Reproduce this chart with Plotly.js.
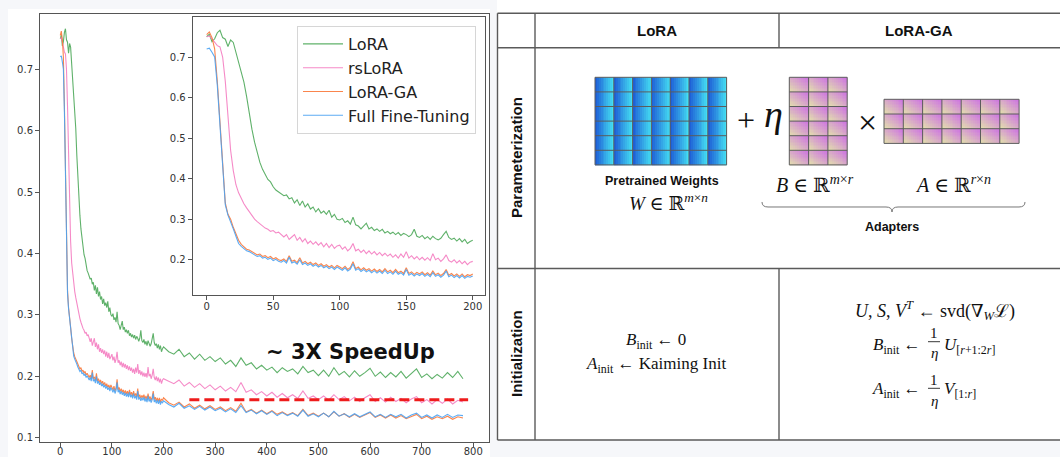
<!DOCTYPE html>
<html><head><meta charset="utf-8">
<script src="https://cdn.plot.ly/plotly-3.0.1.min.js"></script>
<style>html,body{margin:0;padding:0;background:#f6f7fa;}#chart{width:1060px;height:457px;}</style>
</head><body><div id="chart"></div>
<script>
// ---------------- DATA ----------------
const stepsEarly = [0,2,4,6,8,10,12,14,16,18,20,22,24,26,28,30,32,34,36,38,40,42,44,46,48,50,52,54,56,58,60,62,64,66,68,70,72,74,76,78,80,82,84,86,88,90,92,94,96,98,100,102,104,106,108,110,112,114,116,118,120,122,124,126,128,130,132,134,136,138,140,142,144,146,148,150,152,154,156,158,160,162,164,166,168,170,172,174,176,178,180,182,184,186,188,190,192,194,196,198,200];
const stepsLate = [210,220,230,240,250,260,270,280,290,300,310,320,330,340,350,360,370,380,390,400,410,420,430,440,450,460,470,480,490,500,510,520,530,540,550,560,570,580,590,600,610,620,630,640,650,660,670,680,690,700,710,720,730,740,750,760,770,780];

const loraEarly = [0.750,0.756,0.738,0.745,0.760,0.766,0.748,0.744,0.726,0.742,0.736,0.712,0.683,0.660,0.638,0.603,0.560,0.522,0.490,0.462,0.440,0.423,0.410,0.398,0.392,0.380,0.372,0.368,0.362,0.358,0.360,0.350,0.353,0.340,0.348,0.334,0.345,0.330,0.338,0.325,0.330,0.318,0.326,0.315,0.320,0.312,0.322,0.305,0.312,0.300,0.298,0.302,0.292,0.296,0.288,0.305,0.286,0.283,0.276,0.282,0.290,0.276,0.280,0.272,0.276,0.270,0.275,0.266,0.270,0.264,0.268,0.262,0.267,0.260,0.265,0.262,0.257,0.262,0.275,0.258,0.255,0.260,0.252,0.257,0.250,0.258,0.252,0.249,0.253,0.262,0.270,0.255,0.250,0.253,0.246,0.252,0.244,0.250,0.240,0.245,0.248];
const rsloraEarly = [0.750,0.752,0.745,0.735,0.728,0.725,0.700,0.640,0.560,0.470,0.420,0.385,0.365,0.350,0.338,0.328,0.318,0.308,0.300,0.294,0.288,0.282,0.278,0.275,0.270,0.272,0.266,0.268,0.262,0.256,0.262,0.250,0.256,0.262,0.248,0.255,0.244,0.252,0.240,0.246,0.238,0.244,0.236,0.242,0.232,0.240,0.230,0.238,0.228,0.234,0.236,0.226,0.232,0.222,0.228,0.240,0.222,0.226,0.218,0.224,0.215,0.222,0.214,0.220,0.212,0.218,0.210,0.216,0.209,0.214,0.206,0.212,0.204,0.214,0.206,0.220,0.204,0.210,0.202,0.208,0.200,0.206,0.199,0.205,0.198,0.215,0.200,0.204,0.196,0.202,0.212,0.198,0.194,0.200,0.192,0.198,0.190,0.196,0.188,0.194,0.196];
const loragaEarly = [0.755,0.762,0.748,0.720,0.640,0.540,0.430,0.340,0.312,0.300,0.280,0.262,0.248,0.238,0.232,0.226,0.224,0.220,0.215,0.212,0.214,0.208,0.210,0.205,0.208,0.202,0.205,0.200,0.198,0.202,0.196,0.210,0.196,0.199,0.193,0.205,0.192,0.196,0.190,0.194,0.188,0.192,0.186,0.190,0.184,0.188,0.182,0.186,0.180,0.186,0.182,0.178,0.184,0.176,0.181,0.195,0.178,0.182,0.175,0.180,0.174,0.178,0.172,0.177,0.171,0.176,0.170,0.178,0.170,0.174,0.168,0.176,0.168,0.172,0.166,0.180,0.166,0.170,0.164,0.169,0.165,0.170,0.163,0.168,0.162,0.172,0.163,0.167,0.161,0.166,0.176,0.162,0.166,0.160,0.165,0.159,0.165,0.158,0.163,0.161,0.165];
const fullftEarly = [0.720,0.722,0.712,0.700,0.630,0.535,0.425,0.335,0.310,0.295,0.276,0.258,0.240,0.233,0.228,0.222,0.220,0.215,0.212,0.208,0.210,0.204,0.206,0.201,0.204,0.198,0.201,0.196,0.194,0.198,0.192,0.206,0.192,0.195,0.189,0.200,0.188,0.192,0.186,0.190,0.184,0.188,0.182,0.186,0.180,0.184,0.178,0.182,0.176,0.182,0.178,0.174,0.180,0.172,0.177,0.190,0.174,0.178,0.171,0.176,0.170,0.174,0.168,0.173,0.167,0.172,0.166,0.174,0.166,0.170,0.164,0.172,0.164,0.168,0.162,0.176,0.162,0.166,0.160,0.165,0.161,0.166,0.159,0.164,0.158,0.168,0.159,0.163,0.157,0.162,0.172,0.158,0.162,0.156,0.161,0.155,0.161,0.154,0.159,0.157,0.160];

const loraLate = [0.240,0.236,0.244,0.232,0.238,0.228,0.236,0.226,0.232,0.224,0.230,0.220,0.226,0.216,0.230,0.218,0.222,0.212,0.218,0.210,0.215,0.206,0.214,0.208,0.212,0.204,0.216,0.206,0.210,0.201,0.210,0.200,0.214,0.202,0.208,0.199,0.209,0.200,0.206,0.213,0.200,0.207,0.198,0.206,0.199,0.208,0.197,0.205,0.212,0.198,0.204,0.196,0.203,0.197,0.206,0.198,0.208,0.196];
const rsloraLate = [0.192,0.188,0.194,0.184,0.190,0.182,0.188,0.180,0.186,0.178,0.184,0.176,0.182,0.175,0.190,0.174,0.178,0.170,0.175,0.168,0.174,0.166,0.172,0.165,0.170,0.164,0.176,0.164,0.168,0.162,0.168,0.161,0.170,0.162,0.167,0.160,0.166,0.159,0.165,0.170,0.159,0.165,0.158,0.166,0.159,0.164,0.157,0.163,0.167,0.157,0.162,0.155,0.162,0.156,0.163,0.155,0.161,0.158];
const loragaLate = [0.157,0.153,0.158,0.150,0.155,0.148,0.153,0.147,0.152,0.146,0.150,0.144,0.149,0.143,0.156,0.142,0.146,0.140,0.145,0.139,0.144,0.138,0.142,0.137,0.141,0.136,0.146,0.136,0.140,0.135,0.140,0.134,0.142,0.135,0.139,0.133,0.138,0.133,0.137,0.141,0.133,0.137,0.132,0.137,0.132,0.136,0.131,0.135,0.138,0.131,0.135,0.130,0.134,0.131,0.135,0.130,0.134,0.132];
const fullftLate = [0.154,0.150,0.156,0.148,0.152,0.146,0.151,0.145,0.150,0.144,0.148,0.142,0.147,0.141,0.152,0.141,0.145,0.139,0.144,0.138,0.143,0.136,0.141,0.136,0.140,0.135,0.145,0.135,0.139,0.134,0.140,0.134,0.143,0.135,0.139,0.134,0.139,0.134,0.138,0.142,0.134,0.138,0.133,0.138,0.134,0.138,0.132,0.137,0.140,0.133,0.137,0.132,0.137,0.133,0.138,0.133,0.137,0.136];

const seriesNames = ['LoRA','rsLoRA','LoRA-GA','Full Fine-Tuning'];
const speedupX = [250, 790];
const speedupY = [0.162, 0.162];
const mainXTicks = [0,100,200,300,400,500,600,700,800];
const mainYTicks = [0.1,0.2,0.3,0.4,0.5,0.6,0.7];
const insetXTicks = [0,50,100,150,200];
const insetYTicks = [0.2,0.3,0.4,0.5,0.6,0.7];
const headerLabels = ['LoRA','LoRA-GA'];
const rowLabels = ['Parameterization','Initialization'];

// ---------------- STYLE / GEOMETRY ----------------
const W = 1060, H = 457;
const PX = p => p / W, PY = p => 1 - p / H;
const colors = ['#4ea85a','#f47dc1','#f9783a','#4aa2f2'];
const early = [loraEarly, rsloraEarly, loragaEarly, fullftEarly];
const late = [loraLate, rsloraLate, loragaLate, fullftLate];
const tickFont = {family:'DejaVu Sans', size:10, color:'#333'};
const mathFont = 'Liberation Serif, DejaVu Serif, serif';
const sansFont = 'Liberation Sans, Arial, sans-serif';

const traces = [];
for (let i = 0; i < 4; i++) {
  traces.push({type:'scatter', mode:'lines', name:seriesNames[i],
    x: stepsEarly.concat(stepsLate), y: early[i].concat(late[i]),
    xaxis:'x', yaxis:'y', line:{color:colors[i], width:1.1}, opacity:0.9, showlegend:false});
}
traces.push({type:'scatter', mode:'lines', x:speedupX, y:speedupY, xaxis:'x', yaxis:'y',
  line:{color:'#ee1c1c', width:3, dash:'10px,5px'}, showlegend:false});
for (let i = 0; i < 4; i++) {
  traces.push({type:'scatter', mode:'lines', name:seriesNames[i],
    x: stepsEarly, y: early[i], xaxis:'x2', yaxis:'y2',
    line:{color:colors[i], width:1.1}, opacity:0.9, showlegend:true});
}

// matrix diagrams (gradient cells) as heatmaps on a pixel-space axis pair
function matrixHeat(x0, y0, cols, rows, cw, ch, sub, fn, cs) {
  const xe = [], ye = [], z = [];
  for (let c = 0; c < cols; c++) for (let s = 0; s < sub; s++) xe.push(x0 + c*cw + s*cw/sub);
  xe.push(x0 + cols*cw);
  for (let r = 0; r < rows; r++) for (let t = 0; t < sub; t++) ye.push(y0 + r*ch + t*ch/sub);
  ye.push(y0 + rows*ch);
  for (let r = 0; r < rows; r++) for (let t = 0; t < sub; t++) {
    const row = [];
    for (let c = 0; c < cols; c++) for (let s = 0; s < sub; s++) row.push(fn((s+0.5)/sub, (t+0.5)/sub));
    z.push(row);
  }
  return {type:'heatmap', x:xe, y:ye, z:z, xaxis:'x3', yaxis:'y3', colorscale:cs,
    zmin:0, zmax:1, showscale:false, hoverinfo:'skip', zsmooth:false};
}
const blueCS = [[0,'#1d5ad6'],[1,'#46e4f3']];
const pinkCS = [[0,'#e3e2ab'],[1,'#cd70e4']];
const mats = [
  {x0:595, y0:77.3, cols:7, rows:6, cw:18.8, ch:14.6, fn:(u,v)=>u, cs:blueCS},
  {x0:789.3, y0:77.3, cols:3, rows:6, cw:19.3, ch:14.6, fn:(u,v)=>(u+1-v)/2, cs:pinkCS},
  {x0:884, y0:99.3, cols:7, rows:3, cw:19.3, ch:14.7, fn:(u,v)=>(u+1-v)/2, cs:pinkCS}
];
const shapes = [];
const line = (x0,y0,x1,y1,color,width) => ({type:'line', xref:'paper', yref:'paper',
  x0:PX(x0), y0:PY(y0), x1:PX(x1), y1:PY(y1), line:{color:color, width:width}, layer:'above'});
mats.forEach(m => {
  traces.push(matrixHeat(m.x0, m.y0, m.cols, m.rows, m.cw, m.ch, 10, m.fn, m.cs));
  for (let c = 0; c <= m.cols; c++) shapes.push(line(m.x0+c*m.cw, m.y0, m.x0+c*m.cw, m.y0+m.rows*m.ch, '#5c5c5c', 1));
  for (let r = 0; r <= m.rows; r++) shapes.push(line(m.x0, m.y0+r*m.ch, m.x0+m.cols*m.cw, m.y0+r*m.ch, '#5c5c5c', 1));
});

// panels
shapes.push({type:'rect', xref:'paper', yref:'paper', x0:PX(8), x1:PX(490), y0:PY(457), y1:PY(9),
  fillcolor:'#ffffff', line:{width:0}, layer:'below'});
// table lines
const tc = '#5a5a5a', tw = 1.4;
shapes.push(line(497.5, 13.3, 1060, 13.3, tc, tw));
shapes.push(line(497.5, 47.7, 1060, 47.7, tc, tw));
shapes.push(line(497.5, 268.5, 1060, 268.5, tc, tw));
shapes.push(line(497.5, 440, 1060, 440, tc, tw));
shapes.push(line(497.5, 13.3, 497.5, 440, tc, tw));
shapes.push(line(535, 13.3, 535, 440, tc, tw));
shapes.push(line(779, 13.3, 779, 47.7, tc, tw));
shapes.push(line(779, 268.5, 779, 440, tc, tw));
// underbrace
const bp = (x,y) => PX(x).toFixed(5) + ',' + PY(y).toFixed(5);
shapes.push({type:'path', xref:'paper', yref:'paper', layer:'above', line:{color:'#777', width:1},
  path:'M' + bp(762,202) + ' Q' + bp(762,207) + ' ' + bp(768,207) + ' L' + bp(886,207) + ' Q' + bp(892,207) + ' ' + bp(892,212) +
       ' Q' + bp(892,207) + ' ' + bp(898,207) + ' L' + bp(1019,207) + ' Q' + bp(1025,207) + ' ' + bp(1025,202)});
// fraction bars
shapes.push(line(928, 341.7, 940, 341.7, '#222', 0.9));
shapes.push(line(928, 388.3, 940, 388.3, '#222', 0.9));

const annotations = [];
function ann(text, x, y, font, opts) {
  annotations.push(Object.assign({text:text, xref:'paper', yref:'paper', x:PX(x), y:PY(y),
    showarrow:false, font:font, xanchor:'center', yanchor:'middle'}, opts || {}));
}
// left chart annotation
annotations.push({text:'<b>~ 3X SpeedUp</b>', xref:'x', yref:'y', x:563, y:0.2396, showarrow:false,
  font:{family:'DejaVu Sans', size:21, color:'#111'}, xanchor:'center', yanchor:'middle'});
// table header / row labels
ann('<b>' + headerLabels[0] + '</b>', 657, 31, {family:sansFont, size:15, color:'#111'});
ann('<b>' + headerLabels[1] + '</b>', 918.5, 31, {family:sansFont, size:15, color:'#111'});
ann('<b>' + rowLabels[0] + '</b>', 516, 158, {family:sansFont, size:15, color:'#111'}, {textangle:-90});
ann('<b>' + rowLabels[1] + '</b>', 516, 354, {family:sansFont, size:15, color:'#111'}, {textangle:-90});
// parameterization diagram text
ann('+', 746, 120, {family:mathFont, size:32, color:'#111'});
ann('<i>η</i>', 773, 114, {family:mathFont, size:38, color:'#111'});
ann('×', 867.5, 123, {family:mathFont, size:34, color:'#111'});
ann('<b>Pretrained Weights</b>', 662, 181, {family:sansFont, size:12.5, color:'#111'});
ann('<i>W</i> ∈ ℝ<sup><i>m</i>×<i>n</i></sup>', 668, 202, {family:mathFont, size:19, color:'#111'});
ann('<i>B</i> ∈ ℝ<sup><i>m</i>×<i>r</i></sup>', 815, 184, {family:mathFont, size:20, color:'#111'});
ann('<i>A</i> ∈ ℝ<sup><i>r</i>×<i>n</i></sup>', 953, 184, {family:mathFont, size:20, color:'#111'});
ann('<b>Adapters</b>', 892, 227, {family:sansFont, size:12.5, color:'#111'});
// initialization text
const mf = {family:mathFont, size:17, color:'#111'};
ann('<i>B</i><sub>init</sub> ← 0', 656, 341, mf);
ann('<i>A</i><sub>init</sub> ← Kaiming Init', 656, 365, mf);
ann('<i>U</i>, <i>S</i>, <i>V</i><sup><i>T</i></sup> ← svd(∇<sub><i>W</i></sub>ℒ)', 935, 310, {family:mathFont, size:18, color:'#111'});
ann('<i>B</i><sub>init</sub> ←', 923, 346, mf, {xanchor:'right'});
ann('1', 934, 333, {family:mathFont, size:15, color:'#111'});
ann('<i>η</i>', 934, 353, {family:mathFont, size:15, color:'#111'});
ann('<i>U</i><sub>[<i>r</i>+1:2<i>r</i>]</sub>', 942, 346, mf, {xanchor:'left'});
ann('<i>A</i><sub>init</sub> ←', 923, 390, mf, {xanchor:'right'});
ann('1', 934, 380, {family:mathFont, size:15, color:'#111'});
ann('<i>η</i>', 934, 401, {family:mathFont, size:15, color:'#111'});
ann('<i>V</i><sub>[1:<i>r</i>]</sub>', 942, 390, mf, {xanchor:'left'});

const axBase = {showline:true, mirror:true, linecolor:'#555', linewidth:1, ticks:'outside', ticklen:4,
  tickcolor:'#555', tickwidth:1, showgrid:false, zeroline:false, tickfont:tickFont, fixedrange:true, autorange:false};
const layout = {
  width:W, height:H, margin:{l:0, r:0, t:0, b:0, pad:0},
  paper_bgcolor:'#f6f7fa', plot_bgcolor:'#ffffff', hovermode:false,
  xaxis: Object.assign({}, axBase, {domain:[PX(40), PX(489.3)], range:[-39.3, 831], tickvals:mainXTicks, anchor:'y', ticklabelstandoff:-4}),
  yaxis: Object.assign({}, axBase, {domain:[PY(442), PY(14)], range:[0.093, 0.79], tickvals:mainYTicks, ticktext:mainYTicks.map(v=>v.toFixed(1)), anchor:'x'}),
  xaxis2: Object.assign({}, axBase, {domain:[PX(192.7), PX(485)], range:[-10.5, 209.2], tickvals:insetXTicks, anchor:'y2', ticklabelstandoff:-2}),
  yaxis2: Object.assign({}, axBase, {domain:[PY(295), PY(17.3)], range:[0.113, 0.798], tickvals:insetYTicks, ticktext:insetYTicks.map(v=>v.toFixed(1)), anchor:'x2'}),
  xaxis3: {domain:[PX(497), 1], range:[497, 1060], visible:false, fixedrange:true, anchor:'y3'},
  yaxis3: {domain:[PY(440), 1], range:[440, 0], visible:false, fixedrange:true, anchor:'x3'},
  legend: {x:PX(297), y:PY(26), xanchor:'left', yanchor:'top', bgcolor:'rgba(255,255,255,0.9)',
    bordercolor:'#d6d6d6', borderwidth:1, font:{family:'DejaVu Sans', size:16, color:'#222'}, itemwidth:40, tracegroupgap:0},
  shapes: shapes, annotations: annotations
};
Plotly.newPlot('chart', traces, layout, {staticPlot:true, displayModeBar:false});
</script></body></html>
